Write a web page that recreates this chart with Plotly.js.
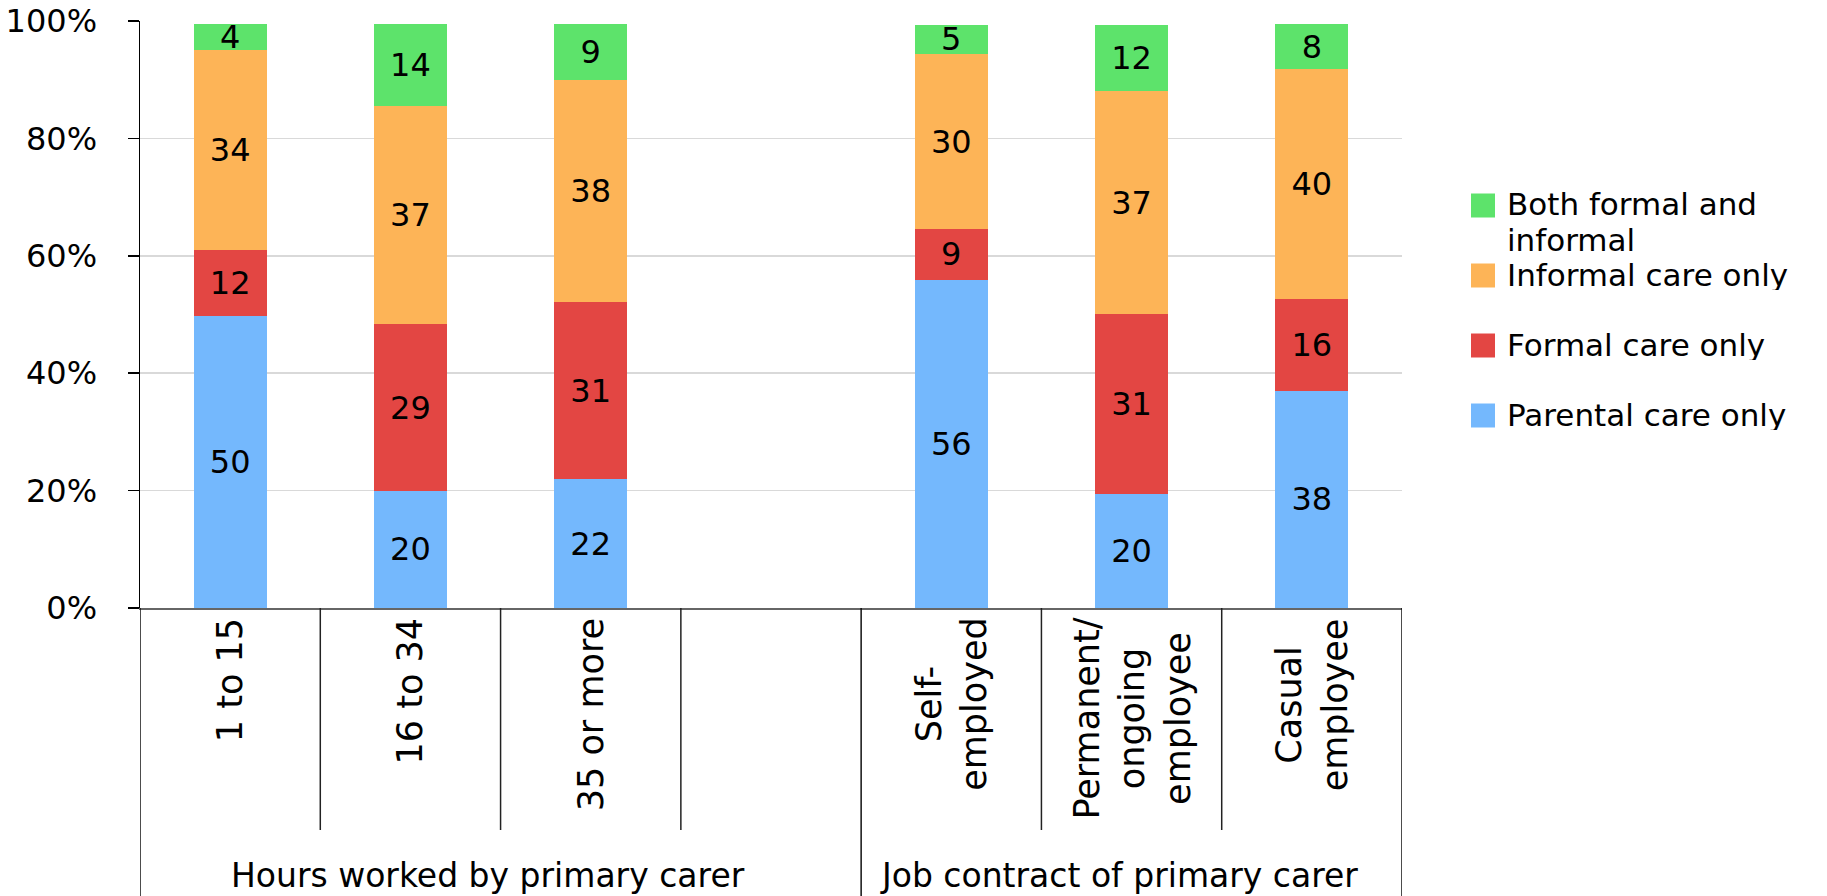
<!DOCTYPE html>
<html>
<head>
<meta charset="utf-8">
<script src="https://cdn.plot.ly/plotly-3.0.1.min.js"></script>
<style>
html,body{margin:0;padding:0;background:#ffffff;}
#chart{width:1827px;height:896px;}
</style>
</head>
<body>
<div id="chart"></div>
<script>
// ---- data ----
const categories = ['1 to 15', '16 to 34', '35 or more', '(blank)', 'Self-employed', 'Permanent/ongoing employee', 'Casual employee'];
const categoryLabels = ['1 to 15', '16 to 34', '35 or more', '', 'Self-<br>employed', 'Permanent/<br>ongoing<br>employee', 'Casual<br>employee'];
const groupLabels = ['Hours worked by primary carer', 'Job contract of primary carer'];
const groupFirst = [0, 4];
const groupLast = [3, 6];

const seriesNames = ['Parental care only', 'Formal care only', 'Informal care only', 'Both formal and informal'];
const legendLabels = ['Parental care only', 'Formal care only', 'Informal care only', 'Both formal and<br>informal'];
const seriesColors = ['#74b8fd', '#e34643', '#fdb457', '#5de36b'];

const parentalValues = [49.7, 20.0, 21.9, null, 55.9, 19.4, 37.0];
const formalValues   = [11.3, 28.3, 30.2, null, 8.7, 30.7, 15.7];
const informalValues = [34.1, 37.2, 37.9, null, 29.7, 37.9, 39.1];
const bothValues     = [4.4, 14.0, 9.5, null, 5.1, 11.4, 7.7];

const parentalLabels = ['50', '20', '22', '', '56', '20', '38'];
const formalLabels   = ['12', '29', '31', '', '9', '31', '16'];
const informalLabels = ['34', '37', '38', '', '30', '37', '40'];
const bothLabels     = ['4', '14', '9', '', '5', '12', '8'];

const yTickValues = [0, 20, 40, 60, 80, 100];
const yTickLabels = ['0%', '20%', '40%', '60%', '80%', '100%'];

// ---- build ----
const FONT = 'DejaVu Sans, Verdana, sans-serif';
const seriesValues = [parentalValues, formalValues, informalValues, bothValues];
const seriesLabels = [parentalLabels, formalLabels, informalLabels, bothLabels];

const traces = seriesNames.map((name, i) => ({
  type: 'bar',
  name: name,
  x: categories,
  y: seriesValues[i],
  text: seriesLabels[i],
  textposition: 'inside',
  insidetextanchor: 'middle',
  textangle: 0,
  constraintext: 'none',
  textfont: {family: FONT, size: 32, color: '#000000'},
  marker: {color: seriesColors[i], line: {width: 0}},
  hoverinfo: 'skip',
  showlegend: false
}));

// plot area geometry in pixels (used to convert to paper coords)
const PLOT_TOP = 21, PLOT_BOTTOM = 608, PLOT_LEFT = 140, PLOT_RIGHT = 1402;
const plotH = PLOT_BOTTOM - PLOT_TOP, plotW = PLOT_RIGHT - PLOT_LEFT;
const py = (pix) => (PLOT_BOTTOM - pix) / plotH;
const px = (pix) => (pix - PLOT_LEFT) / plotW;

const shapes = [];
const annotations = [];

// category separators
const longSeps = [-0.5];
groupLast.forEach(g => longSeps.push(g + 0.5));
for (let b = 0; b < categories.length - 1; b++) {
  const pos = b + 0.5;
  const isLong = longSeps.some(v => Math.abs(v - pos) < 1e-6);
  if (!isLong) {
    shapes.push({type: 'line', xref: 'x', yref: 'paper', x0: pos, x1: pos, y0: 0, y1: py(830),
      line: {color: '#222222', width: 1.5}});
  }
}
longSeps.forEach(pos => {
  shapes.push({type: 'line', xref: 'x', yref: 'paper', x0: pos, x1: pos, y0: 0, y1: py(900),
    line: {color: '#111111', width: 1.5}});
});

// category labels
categoryLabels.forEach((lab, i) => {
  if (!lab) return;
  annotations.push({
    xref: 'x', yref: 'paper', x: i, y: py(616),
    text: lab, textangle: -90, showarrow: false,
    xanchor: 'center', yanchor: 'top', align: 'center',
    font: {family: FONT, size: 35, color: '#000000'}
  });
});

// group labels
groupLabels.forEach((lab, g) => {
  annotations.push({
    xref: 'x', yref: 'paper', x: (groupFirst[g] + groupLast[g]) / 2, y: py(875),
    xshift: -13,
    text: lab, showarrow: false, xanchor: 'center', yanchor: 'middle',
    font: {family: FONT, size: 33, color: '#000000'}
  });
});

// legend (top item = last series); each text line placed on its own
const legendOrder = [3, 2, 1, 0];
const legendCenters = [205.5, 275.5, 345.5, 415.5];
const LEG_FONT = 31, LEG_LINE = 35;
legendOrder.forEach((s, k) => {
  const c = legendCenters[k];
  shapes.push({type: 'rect', xref: 'paper', yref: 'paper',
    x0: px(1471), x1: px(1495), y0: py(c + 12), y1: py(c - 12),
    fillcolor: seriesColors[s], line: {width: 0}});
  legendLabels[s].split('<br>').forEach((line, j) => {
    annotations.push({
      xref: 'paper', yref: 'paper', x: px(1505), y: py(c - 1 + j * LEG_LINE),
      text: line, showarrow: false, xanchor: 'left', yanchor: 'middle', align: 'left',
      height: 30,
      font: {family: FONT, size: LEG_FONT, color: '#000000'}
    });
  });
});

const layout = {
  width: 1827, height: 896,
  margin: {l: PLOT_LEFT, r: 1827 - PLOT_RIGHT, t: PLOT_TOP, b: 896 - PLOT_BOTTOM, pad: 0},
  paper_bgcolor: '#ffffff', plot_bgcolor: '#ffffff',
  barmode: 'stack', bargap: 0.595,
  showlegend: false,
  font: {family: FONT, color: '#000000'},
  xaxis: {
    type: 'category', categoryorder: 'array', categoryarray: categories,
    range: [-0.5, categories.length - 0.5],
    showticklabels: false, ticks: '', showgrid: false, zeroline: false,
    showline: true, linecolor: '#666666', linewidth: 2, fixedrange: true
  },
  yaxis: {
    range: [0, 100], tickmode: 'array', tickvals: yTickValues, ticktext: yTickLabels,
    showgrid: true, gridcolor: '#d9d9d9', gridwidth: 1.5,
    zeroline: false, showline: true, linecolor: '#000000', linewidth: 1.5,
    ticks: 'outside', ticklen: 11, tickcolor: '#000000', tickwidth: 1.5,
    ticklabelstandoff: 24,
    tickfont: {family: FONT, size: 32, color: '#000000'}, fixedrange: true
  },
  shapes: shapes,
  annotations: annotations
};

Plotly.newPlot('chart', traces, layout, {staticPlot: true, displayModeBar: false});
</script>
</body>
</html>
